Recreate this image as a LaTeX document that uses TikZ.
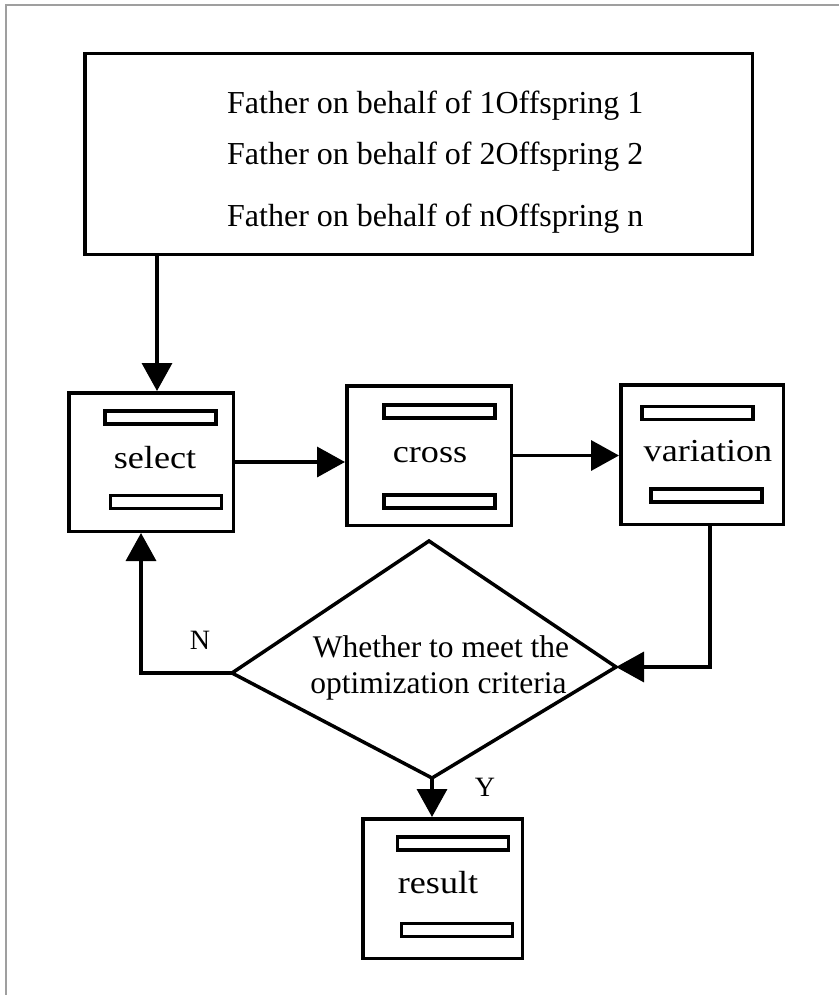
\documentclass[tikz,border=0pt]{standalone}
\usepackage{fontspec}
\setmainfont{Liberation Serif}
\usetikzlibrary{arrows.meta,shapes.geometric}
\begin{document}
\begin{tikzpicture}[x=1pt,y=-1pt,
  stepbox/.style={draw, line width=3.5pt, inner sep=0pt},
  bar/.style={draw, line width=3.2pt, inner sep=0pt, minimum height=13pt, minimum width=111pt},
  lbl/.style={anchor=base, inner sep=0pt, font=\fontsize{32}{38}\selectfont},
  txt/.style={anchor=base west, inner sep=0pt, font=\fontsize{32}{38}\selectfont},
  dtxt/.style={anchor=base, inner sep=0pt, font=\fontsize{31.5}{38}\selectfont},
  yn/.style={anchor=center, inner sep=0pt, font=\fontsize{28}{32}\selectfont},
  arr/.style={line width=3.5pt, -{Triangle[length=28pt,width=30pt]}}]
\useasboundingbox (0,0) rectangle (839,995);
% outer frame
\draw[gray!75, line width=1.5pt] (6,995) -- (6,5) -- (839,5);

% top box
\node[stepbox, minimum width=667.5pt, minimum height=200.5pt] (topbox) at (418.5,154) {};
\node[txt] (t1) at (227,114) {Father on behalf of 1Offspring 1};
\node[txt] (t2) at (227,165) {Father on behalf of 2Offspring 2};
\node[txt] (t3) at (227,226) {Father on behalf of nOffspring n};

% process boxes
\node[stepbox, minimum width=164.5pt, minimum height=138.5pt] (sel) at (151,462) {};
\node[bar] (selb1) at (160.5,417.5) {};
\node[bar] (selb2) at (166,502) {};
\node[lbl] (sell) at (155,468) {\scalebox{1.13}[1]{select}};

\node[stepbox, minimum width=164.5pt, minimum height=139.5pt] (cross) at (429,455.5) {};
\node[bar] (crb1) at (439.5,411.5) {};
\node[bar] (crb2) at (439.5,501.5) {};
\node[lbl] (crl) at (430,462) {\scalebox{1.13}[1]{cross}};

\node[stepbox, minimum width=162.5pt, minimum height=139.5pt] (var) at (702,454.5) {};
\node[bar] (vab1) at (697.5,413) {};
\node[bar] (vab2) at (706.5,495.5) {};
\node[lbl] (val) at (708,461) {\scalebox{1.13}[1]{variation}};

\node[stepbox, minimum width=159.5pt, minimum height=139.5pt] (res) at (442.5,888.5) {};
\node[bar] (reb1) at (453,843.5) {};
\node[bar] (reb2) at (457,930) {};
\node[lbl] (rel) at (438,893) {\scalebox{1.13}[1]{result}};

% decision diamond
\coordinate (dt) at (429,541);
\coordinate (dl) at (232,673);
\coordinate (dr) at (616,667);
\coordinate (db) at (432,778);
\draw[line width=3.5pt] (dt) -- (dr) -- (db) -- (dl) -- cycle;
\node[dtxt] (d1) at (441,657) {Whether to meet the};
\node[dtxt] (d2) at (438.5,693) {optimization criteria};

% labels
\node[yn] (N) at (200,640) {N};
\node[yn] (Y) at (485,787) {Y};

% connectors
\draw[arr] ([xshift=6pt]sel.north |- topbox.south) -- ([xshift=6pt]sel.north);
\draw[arr] (sel.east) -- (sel.east -| cross.west);
\draw[arr] (cross.east) -- (cross.east -| var.west);
\draw[arr] ([xshift=8pt]var.south) |- (dr);
\draw[arr] (dl) -| ([xshift=-10pt]sel.south);
\draw[arr] (db) -- (db |- res.north);
\end{tikzpicture}
\end{document}
